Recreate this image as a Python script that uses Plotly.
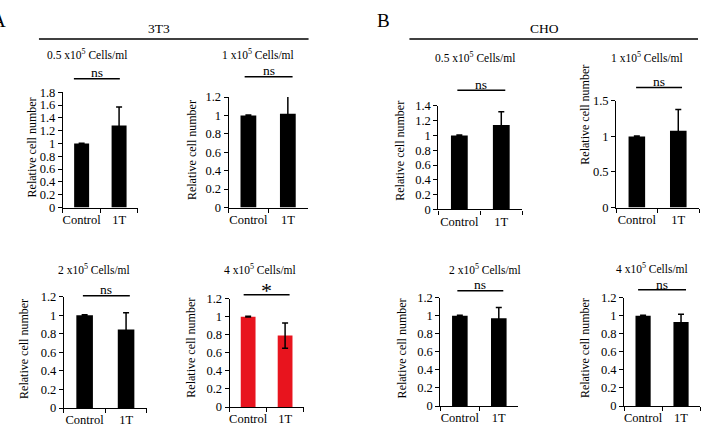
import plotly.graph_objects as go

W, H = 702, 446
FONT = "Liberation Serif, Times New Roman, serif"

categories = ["Control", "1T"]

# Relative cell number (mean) and error (SD) per panel
a1_mean = [1.0, 1.28]
a1_err = [0.005, 0.29]
a2_mean = [1.0, 1.02]
a2_err = [0.005, 0.26]
a3_mean = [1.0, 0.845]
a3_err = [0.005, 0.18]
a4_mean = [1.0, 0.79]
a4_err = [0.005, 0.14]
b1_mean = [1.0, 1.14]
b1_err = [0.005, 0.18]
b2_mean = [1.0, 1.08]
b2_err = [0.005, 0.30]
b3_mean = [1.0, 0.97]
b3_err = [0.005, 0.12]
b4_mean = [1.0, 0.93]
b4_err = [0.005, 0.085]

panel_titles = [
    "0.5 x10<sup>5</sup> Cells/ml", "1 x10<sup>5</sup> Cells/ml",
    "2 x10<sup>5</sup> Cells/ml", "4 x10<sup>5</sup> Cells/ml",
    "0.5 x10<sup>5</sup> Cells/ml", "1 x10<sup>5</sup> Cells/ml",
    "2 x10<sup>5</sup> Cells/ml", "4 x10<sup>5</sup> Cells/ml",
]
significance = ["ns", "ns", "ns", "*", "ns", "ns", "ns", "ns"]
y_max = [1.8, 1.2, 1.2, 1.2, 1.4, 1.5, 1.2, 1.2]
y_dtick = [0.2, 0.2, 0.2, 0.2, 0.2, 0.5, 0.2, 0.2]
means = [a1_mean, a2_mean, a3_mean, a4_mean, b1_mean, b2_mean, b3_mean, b4_mean]
errs = [a1_err, a2_err, a3_err, a4_err, b1_err, b2_err, b3_err, b4_err]
bar_colors = ["#000000", "#000000", "#000000", "#e8141e",
              "#000000", "#000000", "#000000", "#000000"]

# Layout geometry in pixels: axis x0, x1, plot top, plot bottom,
# subtitle (cx, cy), significance line (x0, x1, y), y-title (cx, cy)
geom = [
    dict(x0=62, x1=137, top=88, bot=207, st=(86, 49), sig=(73, 119, 74), yt=(31, 145)),
    dict(x0=228, x1=307, top=93, bot=207, st=(257, 49), sig=(244, 292, 72), yt=(192, 148)),
    dict(x0=63, x1=146, top=299, bot=414, st=(93, 270), sig=(82, 129, 298), yt=(23, 353)),
    dict(x0=229, x1=303, top=301, bot=413, st=(259, 270), sig=(243, 289, 297), yt=(190, 352)),
    dict(x0=438, x1=522, top=102, bot=209, st=(475, 52), sig=(457, 505, 86), yt=(400, 148)),
    dict(x0=616, x1=699, top=97, bot=207, st=(647, 52), sig=(636, 682, 83), yt=(584, 111)),
    dict(x0=440, x1=518, top=300, bot=412, st=(485, 270), sig=(457, 503, 293), yt=(402, 352)),
    dict(x0=624, x1=700, top=300, bot=412, st=(652, 269), sig=(638, 686, 292), yt=(585, 352)),
]


def px(x):
    return x / W


def py(y):
    return 1 - y / H


fig = go.Figure()
layout = dict(
    width=W, height=H, margin=dict(l=0, r=0, t=0, b=0),
    paper_bgcolor="white", plot_bgcolor="white", showlegend=False,
    font=dict(family=FONT, color="black", size=12),
)
annotations = []
shapes = []

for i, g in enumerate(geom):
    n = "" if i == 0 else str(i + 1)
    fig.add_trace(go.Bar(
        x=categories, y=means[i],
        marker=dict(color=bar_colors[i], line=dict(width=0)),
        width=0.4,
        error_y=dict(type="data", array=errs[i], visible=True,
                     color="black", thickness=1.5, width=3),
        xaxis="x" + n, yaxis="y" + n,
    ))
    layout["xaxis" + n] = dict(
        domain=[px(g["x0"]), px(g["x1"])], anchor="y" + n,
        type="category", range=[-0.5, 1.5], tickson="boundaries",
        ticks="outside", ticklen=4, tickwidth=1, tickcolor="black",
        tickangle=0,
        showline=True, linecolor="black", linewidth=1.2,
        showgrid=False, zeroline=False,
        tickfont=dict(family=FONT, size=12.5, color="black"),
    )
    layout["yaxis" + n] = dict(
        domain=[py(g["bot"]), py(g["top"])], anchor="x" + n,
        range=[0, y_max[i]], dtick=y_dtick[i], tick0=0,
        ticks="outside", ticklen=4, tickwidth=1, tickcolor="black",
        showline=True, linecolor="black", linewidth=1.2,
        showgrid=False, zeroline=False,
        tickfont=dict(family=FONT, size=12.5, color="black"),
    )
    # subtitle
    annotations.append(dict(
        text=panel_titles[i], x=px(g["st"][0]), y=py(g["st"][1]),
        xref="paper", yref="paper", xanchor="center", yanchor="middle",
        showarrow=False, font=dict(family=FONT, size=11.5, color="black"),
    ))
    # y title
    annotations.append(dict(
        text="Relative cell number", x=px(g["yt"][0]), y=py(g["yt"][1]),
        xref="paper", yref="paper", xanchor="center", yanchor="middle",
        textangle=-90, showarrow=False,
        font=dict(family=FONT, size=12, color="black"),
    ))
    # significance line + label
    sx0, sx1, sy = g["sig"]
    shapes.append(dict(type="line", xref="paper", yref="paper",
                       x0=px(sx0), x1=px(sx1), y0=py(sy), y1=py(sy),
                       line=dict(color="black", width=1.5)))
    star = significance[i] == "*"
    annotations.append(dict(
        text=significance[i], x=px((sx0 + sx1) / 2),
        y=py(sy - (4 if star else 6)),
        xref="paper", yref="paper", xanchor="center", yanchor="middle",
        showarrow=False,
        font=dict(family=FONT, size=22 if star else 13.5, color="black"),
    ))

# group headers
shapes.append(dict(type="line", xref="paper", yref="paper",
                   x0=px(38), x1=px(308), y0=py(33), y1=py(33),
                   line=dict(color="black", width=1.5)))
shapes.append(dict(type="line", xref="paper", yref="paper",
                   x0=px(409), x1=px(698), y0=py(33), y1=py(33),
                   line=dict(color="black", width=1.5)))
for txt, cx, cy, sz in [("3T3", 158, 22, 13.5), ("CHO", 544, 22, 13.5)]:
    annotations.append(dict(text=txt, x=px(cx), y=py(cy), xref="paper",
                            yref="paper", xanchor="center", yanchor="middle",
                            showarrow=False,
                            font=dict(family=FONT, size=sz, color="black")))
for txt, cx, cy, anchor in [("A", 7, 14, "right"), ("B", 383, 14, "center")]:
    annotations.append(dict(text=txt, x=px(cx), y=py(cy), xref="paper",
                            yref="paper", xanchor=anchor, yanchor="middle",
                            showarrow=False,
                            font=dict(family=FONT, size=19, color="black")))

layout["annotations"] = annotations
layout["shapes"] = shapes
fig.update_layout(**layout)
fig.write_html("out.html")
